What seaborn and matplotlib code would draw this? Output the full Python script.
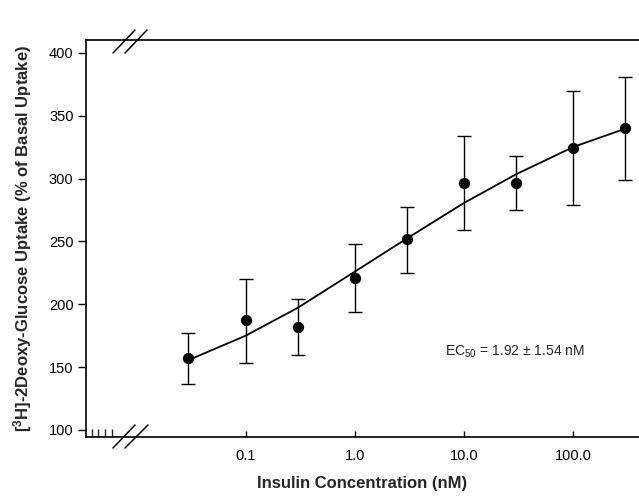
import numpy as np
import pandas as pd
import matplotlib
matplotlib.use("Agg")
import matplotlib.pyplot as plt
import seaborn as sns

# ---- data ----
insulin_nM = [0.03, 0.1, 0.3, 1.0, 3.0, 10.0, 30.0, 100.0, 300.0]
uptake_mean = [157.5, 187.4, 182.1, 221.1, 251.8, 296.9, 296.9, 324.7, 340.3]
err_upper = [176.9, 220.0, 204.1, 247.6, 277.5, 333.7, 317.8, 369.7, 380.8]
err_lower = [136.6, 153.3, 159.9, 193.5, 225.0, 259.0, 275.4, 278.9, 298.7]
fit_curve = [155.6, 175.0, 197.2, 226.0, 252.4, 280.7, 303.5, 325.2, 339.8]

x_tick_values = [0.1, 1.0, 10.0, 100.0]
x_tick_labels = ["0.1", "1.0", "10.0", "100.0"]
y_tick_values = [100, 150, 200, 250, 300, 350, 400]
break_minor_ticks = [0.0039, 0.0045, 0.0052, 0.006]

df = pd.DataFrame({"x": insulin_nM, "y": uptake_mean,
                   "hi": err_upper, "lo": err_lower, "fit": fit_curve})

sns.set_style("ticks")
plt.rcParams["font.family"] = ["Liberation Sans", "DejaVu Sans"]
plt.rcParams["mathtext.fontset"] = "custom"
plt.rcParams["mathtext.rm"] = "Liberation Sans"
plt.rcParams["mathtext.it"] = "Liberation Sans:italic"
plt.rcParams["mathtext.bf"] = "Liberation Sans:bold"

W, H = 639, 501
fig = plt.figure(figsize=(W / 100, H / 100), dpi=100)
L, R, T, B = 86, 639, 40, 437
ax = fig.add_axes([L / W, (H - B) / H, (R - L) / W, (B - T) / H])

ax.set_xscale("log")

# fitted curve
sns.lineplot(data=df, x="x", y="fit", ax=ax, color="black", lw=1.3,
             estimator=None, sort=True, zorder=2)
# error bars
yerr = np.array([df["y"] - df["lo"], df["hi"] - df["y"]])
ax.errorbar(df["x"], df["y"], yerr=yerr, fmt="none", ecolor="black",
            elinewidth=1.0, capsize=4.8, capthick=1.0, zorder=3)
# points
sns.scatterplot(data=df, x="x", y="y", ax=ax, color="black", s=66,
                edgecolor="black", linewidth=0, zorder=4)

ax.set_xlim(0.00346, 399)
ax.set_ylim(94.4, 410.3)

ax.set_xticks(x_tick_values)
ax.set_xticklabels(x_tick_labels)
ax.set_xticks(break_minor_ticks, minor=True)
ax.set_xticklabels([], minor=True)
ax.set_yticks(y_tick_values)

ax.tick_params(axis="x", which="major", direction="in", length=4, width=1,
               labelsize=10.5, pad=9, colors="black")
ax.tick_params(axis="x", which="minor", direction="in", length=6, width=1)
ax.tick_params(axis="y", direction="out", length=6, width=1,
               labelsize=10.5, pad=3, colors="black")

for s in ["top", "bottom", "left"]:
    ax.spines[s].set_linewidth(1.2)
    ax.spines[s].set_color("black")
ax.spines["right"].set_visible(False)

ax.set_xlabel("Insulin Concentration (nM)", fontsize=12, fontweight="bold",
              labelpad=9)
ax.set_ylabel(r"[$\mathbf{^{3}}$H]-2Deoxy-Glucose Uptake (% of Basal Uptake)",
              fontsize=12, fontweight="bold", labelpad=11)

# axis break marks
def fx(px):
    return (px - L) / (R - L)

def fy(py):
    return (B - py) / (B - T)

for (x0, y0, x1, y1) in [(113, 448, 135, 425), (125, 448, 148, 425),
                         (113, 53, 135, 30), (125, 53, 147, 30)]:
    ax.plot([fx(x0), fx(x1)], [fy(y0), fy(y1)], transform=ax.transAxes,
            color="black", lw=1.1, clip_on=False, zorder=5)

ax.text(fx(445), fy(352), r"EC$_{50}$ = 1.92 ± 1.54 nM", transform=ax.transAxes,
        fontsize=10, va="center", ha="left")

fig.savefig("out.png", dpi=100)
